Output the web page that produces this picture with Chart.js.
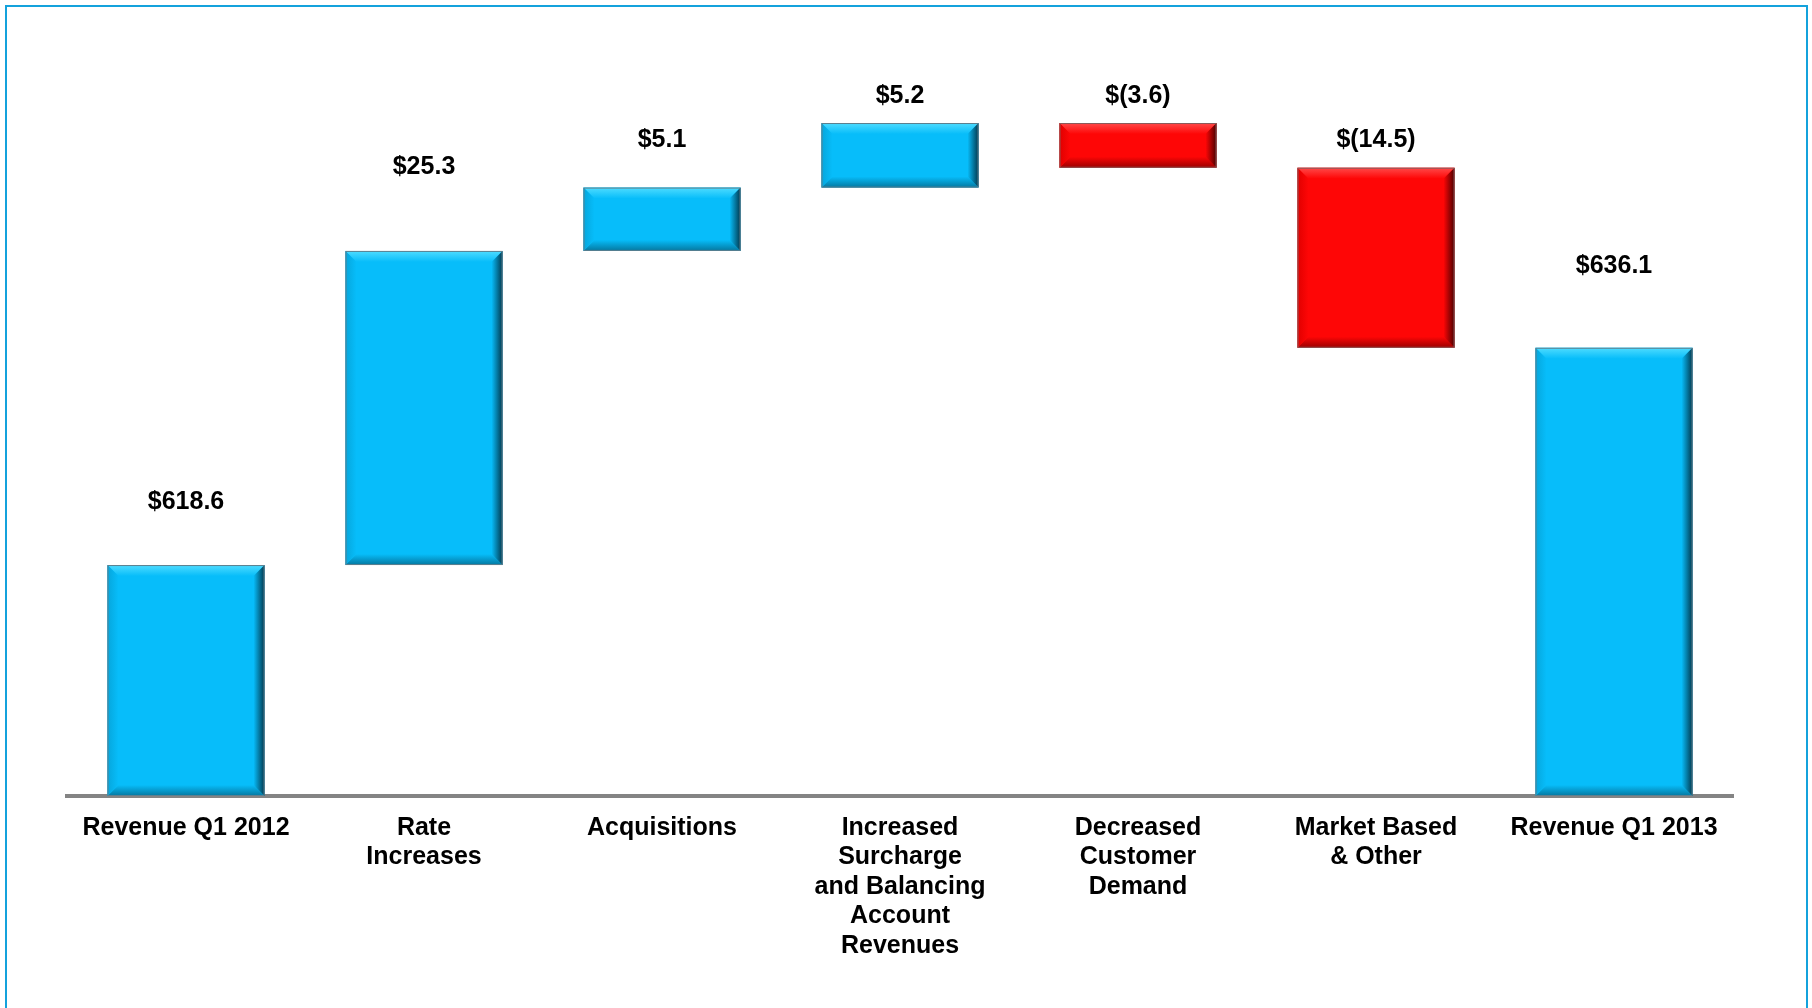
<!DOCTYPE html>
<html lang="en">
<head>
  <meta charset="UTF-8" />
  <title>Revenue Q1 2012 to Revenue Q1 2013</title>
  <script src="https://cdn.jsdelivr.net/npm/chart.js"></script>
  <style>
    * { box-sizing: border-box; }
    html, body { margin: 0; padding: 0; background: #fff; overflow: hidden; }
    .wrap { position: relative; width: 1812px; height: 1008px; }
    .frame {
      position: absolute; left: 5px; top: 5px; width: 1803px; height: 1010px;
      border: 2px solid #14a2dc; border-bottom: none; pointer-events: none;
    }
    canvas { position: absolute; left: 0; top: 0; }
  </style>
</head>
<body>
<div class="wrap">
  <canvas id="bridge" width="1812" height="1008"></canvas>
  <div class="frame"></div>
</div>

<script>
  // chart values ($ millions)
  const categories = [
    ['Revenue Q1 2012'],
    ['Rate', 'Increases'],
    ['Acquisitions'],
    ['Increased', 'Surcharge', 'and Balancing', 'Account', 'Revenues'],
    ['Decreased', 'Customer', 'Demand'],
    ['Market Based', '& Other'],
    ['Revenue Q1 2013']
  ];
  const changes = [618.6, 25.3, 5.1, 5.2, -3.6, -14.5, 636.1];
  const isTotal = [true, false, false, false, false, false, true];
  const valueLabels = ['$618.6', '$25.3', '$5.1', '$5.2', '$(3.6)', '$(14.5)', '$636.1'];
  const axisMin = 600;
  const axisMax = 660;

  // floating [start, end] ranges for the waterfall
  const ranges = [];
  let running = 0;
  changes.forEach((v, i) => {
    if (isTotal[i]) {
      ranges.push([axisMin, v]);
      running = v;
    } else {
      ranges.push([running, running + v]);
      running = Math.round((running + v) * 10) / 10;
    }
  });

  const palette = {
    blue: { fill: '#07bdfa', light: '#4fdcff', mid: '#06a6dc', dark: '#02384d', bottom: '#04779f', edge: '#5d7f8e' },
    red:  { fill: '#fe0606', light: '#ff4a4a', mid: '#e00000', dark: '#4a0000', bottom: '#9a0000', edge: '#8a5a5a' }
  };

  function poly(ctx, pts, fill) {
    ctx.beginPath();
    ctx.moveTo(pts[0][0], pts[0][1]);
    for (let k = 1; k < pts.length; k++) ctx.lineTo(pts[k][0], pts[k][1]);
    ctx.closePath();
    ctx.fillStyle = fill;
    ctx.fill();
  }

  // bevelled look of the bars, drawn over the library's own bar rectangles
  const bevelPlugin = {
    id: 'bevel',
    afterDatasetsDraw(chart) {
      const ctx = chart.ctx;
      const meta = chart.getDatasetMeta(0);
      meta.data.forEach((bar, i) => {
        const p = bar.getProps(['x', 'y', 'base', 'width'], true);
        const l = p.x - p.width / 2, r = p.x + p.width / 2;
        const t = Math.min(p.y, p.base), b = Math.max(p.y, p.base);
        const pal = changes[i] < 0 ? palette.red : palette.blue;
        const d = Math.min(11, (b - t) / 3);
        ctx.save();
        let g = ctx.createLinearGradient(0, t, 0, t + d);
        g.addColorStop(0, pal.light); g.addColorStop(1, pal.fill);
        poly(ctx, [[l, t], [r, t], [r - d, t + d], [l + d, t + d]], g);

        g = ctx.createLinearGradient(0, b - d, 0, b);
        g.addColorStop(0, pal.fill); g.addColorStop(1, pal.bottom);
        poly(ctx, [[l, b], [r, b], [r - d, b - d], [l + d, b - d]], g);

        g = ctx.createLinearGradient(r - d, 0, r, 0);
        g.addColorStop(0, pal.fill); g.addColorStop(1, pal.dark);
        poly(ctx, [[r, t], [r, b], [r - d, b - d], [r - d, t + d]], g);

        g = ctx.createLinearGradient(l, 0, l + d, 0);
        g.addColorStop(0, pal.mid); g.addColorStop(1, pal.fill);
        poly(ctx, [[l, t], [l, b], [l + d, b - d], [l + d, t + d]], g);

        ctx.strokeStyle = pal.edge;
        ctx.lineWidth = 1;
        ctx.strokeRect(l + 0.5, t + 0.5, r - l - 1, b - t - 1);
        ctx.restore();
      });
    }
  };

  // dollar labels above each bar
  const valueLabelPlugin = {
    id: 'valueLabels',
    afterDatasetsDraw(chart, args, opts) {
      const ctx = chart.ctx;
      const meta = chart.getDatasetMeta(0);
      ctx.save();
      ctx.font = 'bold 25px "Liberation Sans", Arial, sans-serif';
      ctx.fillStyle = '#000';
      ctx.textAlign = 'center';
      ctx.textBaseline = 'middle';
      meta.data.forEach((bar, i) => {
        const p = bar.getProps(['x', 'y', 'base'], true);
        const top = Math.min(p.y, p.base);
        ctx.fillText(valueLabels[i], p.x, top - opts.offsets[i]);
      });
      ctx.restore();
    }
  };

  new Chart(document.getElementById('bridge'), {
    type: 'bar',
    data: {
      labels: categories,
      datasets: [{
        data: ranges,
        backgroundColor: changes.map(v => v < 0 ? palette.red.fill : palette.blue.fill),
        borderWidth: 0,
        barPercentage: 0.66,
        categoryPercentage: 1
      }]
    },
    options: {
      responsive: false,
      animation: false,
      layout: { padding: { left: 67, right: 79, top: 51, bottom: 0 } },
      plugins: {
        legend: { display: false },
        tooltip: { enabled: false },
        valueLabels: { offsets: [63, 84, 47, 27, 27, 28, 82] }
      },
      scales: {
        x: {
          grid: { display: false, drawTicks: false },
          border: { display: true, color: '#848484', width: 4 },
          ticks: {
            color: '#000',
            font: { family: '"Liberation Sans", Arial, sans-serif', weight: 'bold', size: 25, lineHeight: 1.18 },
            padding: 17,
            maxRotation: 0,
            autoSkip: false
          },
          afterFit(scale) { scale.height = 212; }
        },
        y: { display: false, min: axisMin, max: axisMax }
      }
    },
    plugins: [bevelPlugin, valueLabelPlugin]
  });
</script>
</body>
</html>
